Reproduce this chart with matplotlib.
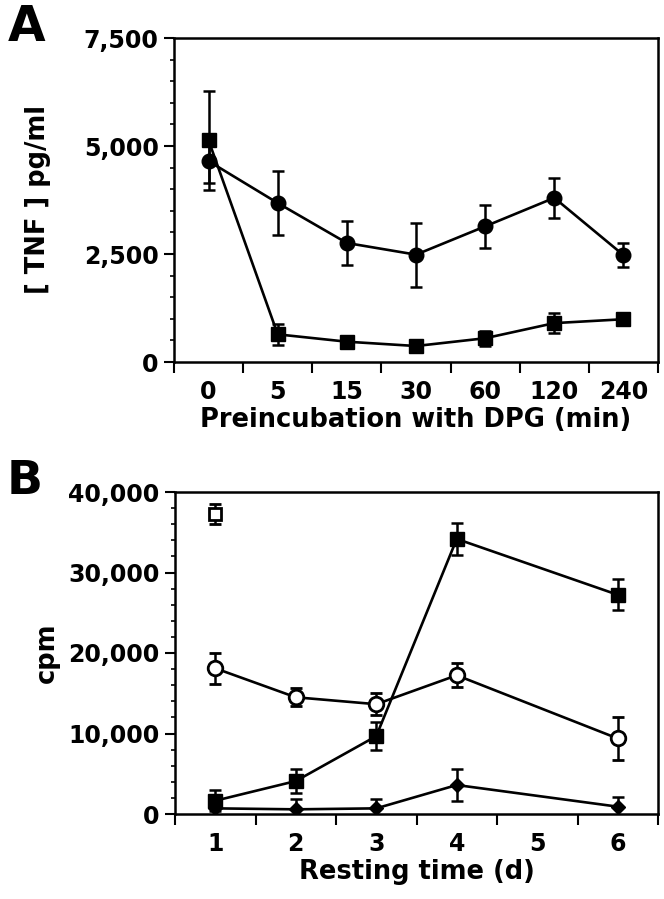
import numpy as np
import matplotlib
matplotlib.use('Agg')
import matplotlib.pyplot as plt
from matplotlib.ticker import FuncFormatter, MultipleLocator, FixedLocator

plt.rcParams['font.family'] = ['DejaVu Sans']
plt.rcParams['font.weight'] = 'bold'

# panel A
a_labels = ['0', '5', '15', '30', '60', '120', '240']
a_circle = [4650, 3680, 2755, 2485, 3140, 3800, 2475]
a_circle_err = [500, 740, 520, 740, 500, 470, 280]
a_square = [5130, 640, 470, 370, 550, 900, 990]
a_square_err = [1140, 250, 80, 80, 170, 230, 110]

# panel B
b_days = [1, 2, 3, 4, 6]
b_square = [1650, 4090, 9670, 34170, 27230]
b_square_err = [1300, 1500, 1700, 2000, 1950]
b_circle = [18100, 14500, 13640, 17230, 9380]
b_circle_err = [1950, 1100, 1400, 1470, 2650]
b_diamond = [700, 580, 700, 3600, 910]
b_diamond_err = [1400, 1240, 1150, 2000, 1150]
b_open_sq_x = [1]
b_open_sq = [37270]
b_open_sq_err = [1300]

fmt = FuncFormatter(lambda v, p: f'{int(v):,}')
lw = 1.9
ekw = dict(elinewidth=1.8, capsize=4, capthick=1.8, ecolor='black')
tfs = 17
lfs = 18.5

fig = plt.figure(figsize=(6.64, 8.99), dpi=100)

def style(ax):
    for s in ax.spines.values():
        s.set_linewidth(1.8)
    ax.yaxis.set_major_formatter(fmt)
    ax.tick_params(axis='y', which='major', length=7, width=1.5, labelsize=tfs, pad=4)
    ax.tick_params(axis='y', which='minor', length=3, width=1.2)
    ax.tick_params(axis='x', which='major', length=0, labelsize=tfs, pad=13)
    ax.tick_params(axis='x', which='minor', length=8, width=1.5)

# A
axA = fig.add_axes([174 / 664, 1 - 362 / 899, (658 - 174) / 664, (362 - 38) / 899])
xa = np.arange(len(a_labels))
axA.errorbar(xa, a_circle, yerr=a_circle_err, color='black', lw=lw, marker='o', ms=10.5, **ekw)
axA.errorbar(xa, a_square, yerr=a_square_err, color='black', lw=lw, marker='s', ms=9.5, **ekw)
axA.set_xlim(-0.5, 6.5)
axA.set_ylim(0, 7500)
axA.set_xticks(xa)
axA.set_xticklabels(a_labels)
axA.xaxis.set_minor_locator(FixedLocator(np.arange(-0.5, 7, 1)))
axA.yaxis.set_major_locator(MultipleLocator(2500))
axA.yaxis.set_minor_locator(MultipleLocator(500))
style(axA)
axA.set_xlabel('Preincubation with DPG (min)', fontsize=lfs, fontweight='bold', labelpad=2)
axA.set_ylabel('[ TNF ] pg/ml', fontsize=lfs, fontweight='bold', labelpad=24)
fig.text(27 / 664, 1 - 27 / 899, 'A', fontsize=35, fontweight='bold', va='center', ha='center')

# B
axB = fig.add_axes([175 / 664, 1 - 814 / 899, (658 - 175) / 664, (814 - 492) / 899])
axB.errorbar(b_days, b_circle, yerr=b_circle_err, color='black', lw=lw, marker='o', ms=10.5,
             mfc='white', mec='black', mew=2, **ekw)
axB.errorbar(b_days, b_diamond, yerr=b_diamond_err, color='black', lw=lw, marker='D', ms=7, **ekw)
axB.errorbar(b_days, b_square, yerr=b_square_err, color='black', lw=lw, marker='s', ms=10, **ekw)
axB.errorbar(b_open_sq_x, b_open_sq, yerr=b_open_sq_err, color='black', lw=0, marker='s', ms=9,
             mfc='white', mec='black', mew=2, **ekw)
axB.set_xlim(0.5, 6.5)
axB.set_ylim(0, 40000)
axB.set_xticks([1, 2, 3, 4, 5, 6])
axB.xaxis.set_minor_locator(FixedLocator(np.arange(0.5, 7, 1)))
axB.yaxis.set_major_locator(MultipleLocator(10000))
axB.yaxis.set_minor_locator(MultipleLocator(2000))
style(axB)
axB.set_xlabel('Resting time (d)', fontsize=lfs, fontweight='bold', labelpad=2)
axB.set_ylabel('cpm', fontsize=lfs, fontweight='bold', labelpad=6)
fig.text(25 / 664, 1 - 481 / 899, 'B', fontsize=34, fontweight='bold', va='center', ha='center')

fig.savefig('out.png', dpi=100)
